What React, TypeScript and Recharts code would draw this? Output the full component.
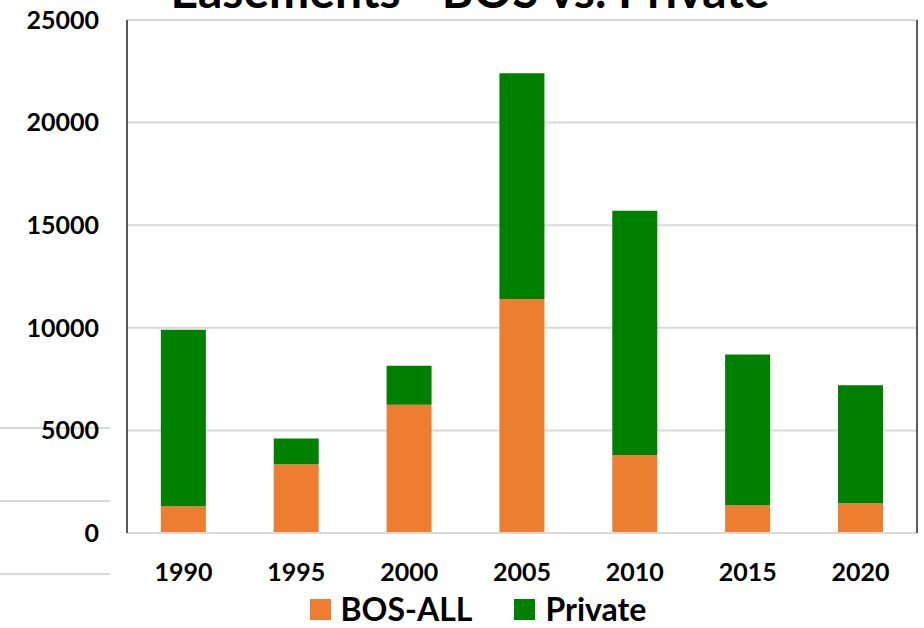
import { Bar, BarChart, CartesianGrid, Legend, XAxis, YAxis } from "recharts";

const years = ['1990', '1995', '2000', '2005', '2010', '2015', '2020']
const bosAll = [1300, 3350, 6250, 11400, 3800, 1350, 1450]
const privat = [8600, 1250, 1900, 11000, 11900, 7350, 5750]
const yTicks = [0, 5000, 10000, 15000, 20000, 25000]

const ORANGE = '#ED7D31'
const GREEN = '#008000'
const FONT = 'Lato, "Open Sans", sans-serif'

const data = years.map((y, i) => ({ year: y, bos: bosAll[i], priv: privat[i] }))

function ChartLegend() {
  const items = [
    { label: 'BOS-ALL', color: ORANGE },
    { label: 'Private', color: GREEN }
  ]
  return (
    <div style={{ display: 'flex', justifyContent: 'center', paddingTop: 10, paddingLeft: 32, fontFamily: FONT, fontWeight: 700, fontSize: 32, color: '#000' }}>
      {items.map((it, i) => (
        <div key={it.label} style={{ display: 'flex', alignItems: 'center', marginRight: i === 0 ? 42 : 0 }}>
          <span style={{ width: 21, height: 21, background: it.color, marginRight: 10, display: 'inline-block' }} />
          <span style={{ lineHeight: '32px' }}>{it.label}</span>
        </div>
      ))}
    </div>
  )
}

export default function App() {
  return (
    <div style={{ position: 'absolute', left: 0, top: 0, width: 924, height: 628, overflow: 'hidden', background: '#fff' }}>
      {/* stray gridline fragments left of the plot */}
      {[428, 501, 574].map(y => (
        <div key={y} style={{ position: 'absolute', left: 0, top: y - 1, width: 110, height: 2, background: '#d9d9d9' }} />
      ))}
      <BarChart
        width={924}
        height={628}
        data={data}
        margin={{ top: 20, right: 0, bottom: 0, left: 0 }}
        barCategoryGap="30%"
      >
        <CartesianGrid vertical={false} stroke="#d9d9d9" strokeWidth={2} />
        <XAxis
          dataKey="year"
          height={50}
          tickLine={false}
          tickSize={0}
          tickMargin={30}
          axisLine={{ stroke: '#d9d9d9', strokeWidth: 2 }}
          tick={{ fill: '#000', fontSize: 25, fontWeight: 700, fontFamily: FONT }}
        />
        <XAxis xAxisId="top" dataKey="year" orientation="top" height={0} tick={false} tickLine={false}
          axisLine={{ stroke: '#595959', strokeWidth: 2 }} />
        <YAxis
          width={127}
          domain={[0, 25000]}
          ticks={yTicks}
          interval={0}
          tickLine={false}
          tickSize={0}
          tickMargin={28}
          axisLine={{ stroke: '#595959', strokeWidth: 2 }}
          tick={{ fill: '#000', fontSize: 25, fontWeight: 700, fontFamily: FONT }}
        />
        <YAxis yAxisId="right" orientation="right" width={7} domain={[0, 25000]} tick={false} tickLine={false}
          axisLine={{ stroke: '#595959', strokeWidth: 2 }} />
        <Legend verticalAlign="bottom" height={45} content={() => <ChartLegend />} />
        <Bar dataKey="bos" name="BOS-ALL" stackId="a" fill={ORANGE} isAnimationActive={false} />
        <Bar dataKey="priv" name="Private" stackId="a" fill={GREEN} isAnimationActive={false} />
      </BarChart>
      <div style={{ position: 'absolute', left: 0, width: 924, top: 14 - 48, textAlign: 'center', fontFamily: FONT, fontWeight: 700, fontSize: 48, lineHeight: '48px', color: '#000', paddingLeft: 16, boxSizing: 'border-box' }}>
        Easements - BOS vs. Private
      </div>
    </div>
  )
}
